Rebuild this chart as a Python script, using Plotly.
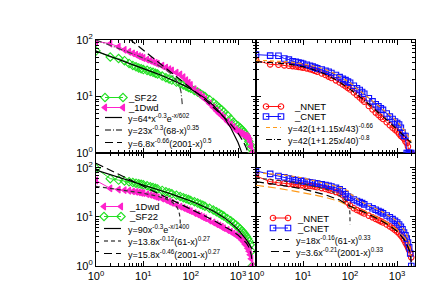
import plotly.graph_objects as go

# ---------------- data ----------------
rank = [1, 2, 3, 4, 5, 6, 7, 8, 9, 10, 12, 14, 16, 18, 20, 25, 30, 35, 40,
        50, 60, 70, 80, 90, 100, 120, 140, 160, 180, 200, 250, 300, 350, 400, 450, 500,
        600, 700, 800, 900, 1000, 1100, 1200, 1300, 1400, 1500, 1600, 1700, 1800, 1900, 2000]

# top-left: dimG, SF22 / 1Dwd
dimG_SF22 = [64, 50, 47, 43, 38.5, 35.5, 33.5, 32, 31, 30,
             29, 27.8, 26.8, 25.8, 25, 23, 21.5, 20.5, 19.5,
             18, 17, 16, 15.2, 14.5, 14, 12.8, 12, 11.2, 10.5, 10,
             8.8, 7.8, 7, 6.3, 5.8, 5.3, 4.6, 4.0, 3.5, 3.2, 3.0,
             2.8, 2.6, 2.4, 2.2, 2.0, 1.8, 1.6, 1.4, 1.2, 1.0]
dimG_1Dwd = [95, 86, 76, 67, 62, 58, 55, 52, 50, 48,
             45, 43, 41, 39.5, 38, 35, 32.5, 30.5, 29,
             26.5, 24.5, 22, 19.5, 17.5, 16, 13.5, 12, 10.8, 9.8, 9,
             7.5, 6.4, 5.6, 5, 4.6, 4.2, 3.6, 3.2, 2.9, 2.6, 2.4,
             2.3, 2.2, 2.1, 2.0, 2.0, 1.9, 1.8, 1.6, 1.3, 1.0]
# top-right: dimG, NNET / CNET
dimG_NNET = [44, 37, 36.5, 35.5, 35, 34.5, 34, 33.5, 33, 32.5,
             31.5, 30.5, 29.5, 28.5, 27.5, 25.5, 24, 22.5, 21.3,
             19.3, 17.7, 16.3, 15.2, 14.2, 13.3, 11.8, 10.6, 9.6, 8.8, 8.1,
             6.8, 5.9, 5.2, 4.7, 4.3, 4.0, 3.5, 3.1, 2.8, 2.6, 2.4,
             2.2, 2.0, 1.9, 1.8, 1.6, 1.5, 1.3, 1.0, 1.0, 1.0]
dimG_CNET = [55, 53, 52.5, 47, 45, 42, 41, 40, 39, 38,
             36.5, 35, 34, 32.5, 31.5, 30, 28.5, 27.5, 26,
             24, 22, 20.5, 19.5, 18.3, 17.5, 15.5, 14, 13, 12, 11.2,
             9.3, 8.2, 7.3, 6.7, 6.2, 5.8, 5, 4.4, 4, 3.6, 3.4,
             3.2, 2.8, 2.3, 2.0, 2.0, 1.0, 1.0, 1.0, 1.0, 1.0]
# bottom-left: degK, 1Dwd / SF22
degK_1Dwd = [55, 38, 36, 35, 34, 33, 32.3, 31.6, 31, 30.5,
             29, 28, 27, 26, 25, 23.5, 22, 20.5, 19.3,
             17.5, 16.2, 15.2, 14.4, 13.7, 13.1, 12, 11.2, 10.5, 9.9, 9.4,
             8.4, 7.7, 7.1, 6.7, 6.3, 5.9, 5.4, 5.0, 4.6, 4.3, 4.0,
             3.7, 3.4, 3.1, 2.8, 2.6, 2.3, 2.0, 1.7, 1.4, 1.0]
degK_SF22 = [97, 60, 56, 54, 52, 50, 48.5, 47, 46, 45,
             43, 41, 39.5, 38, 37, 34.5, 32.5, 31, 29.5,
             27.5, 26, 24.5, 23.5, 22.5, 21.6, 20.3, 19.1, 18.1, 17.3, 16.5,
             15, 13.8, 12.7, 11.8, 11, 10.4, 9.2, 8.3, 7.5, 6.8, 6.2,
             5.7, 5.2, 4.8, 4.4, 4.0, 3.6, 3.2, 2.7, 2.0, 1.0]
# bottom-right: degK, NNET / CNET
degK_NNET = [68, 52, 49.5, 48.5, 47, 46.5, 45.5, 45, 44, 43.5,
             43, 42.5, 42, 41, 40, 38.5, 37, 35.5, 34,
             32, 30, 27.5, 23, 19.5, 17, 15, 13.8, 13, 12.3, 11.7,
             10.6, 9.8, 9.1, 8.6, 8.1, 7.7, 7, 6.4, 5.9, 5.4, 5.0,
             4.6, 4.2, 3.8, 3.4, 3.0, 2.7, 2.4, 2.1, 1.8, 1.5]
degK_CNET = [86, 75, 68, 64, 60.5, 58, 56, 55, 54, 53.5,
             52, 50.5, 49.5, 48.5, 47.5, 46, 44.5, 43, 41.5,
             39, 36.5, 33, 29, 26, 24.5, 22.5, 21, 20, 19, 18,
             16.3, 15, 14, 13.2, 12.5, 11.8, 10.7, 9.8, 9, 8.3, 7.7,
             7, 6.3, 5.6, 4.8, 4.2, 3.6, 3.0, 2.4, 1.8, 1.0]

# fitted curves
fitTL_exp_x = [1, 2, 3, 5, 7, 10, 15, 20, 30, 50, 70, 100, 150, 200, 300, 500, 700, 1000, 1300]
fitTL_exp_y = [63.9, 51.8, 45.8, 39.2, 35.3, 31.5, 27.7, 25.2, 21.9, 18.2, 15.9, 13.6, 11.1,
               9.36, 7.0, 4.33, 2.8, 1.53, 0.85]
fitTL_68_x = [1, 2, 3, 5, 7, 10, 15, 20, 30, 40, 50, 55, 60, 63, 65, 66.5, 66.8]
fitTL_68_y = [100.2, 81.0, 71.3, 60.5, 54.1, 47.7, 41.0, 36.3, 29.6, 24.4, 19.6, 16.9, 13.96,
              11.6, 9.67, 7.5, 6.95]
fitTL_2001_x = [5, 5.5, 6, 7, 10, 15, 20, 30, 50, 70, 100, 150, 200, 300, 500, 700, 1000, 1300, 1500, 1700]
fitTL_2001_y = [105, 98.6, 93, 84.1, 66.3, 50.8, 41.9, 32.0, 22.7, 18.1, 14.2, 10.7, 8.75, 6.5,
                4.36, 3.25, 2.25, 1.58, 1.22, 0.87]

fitTR_x = [1, 2, 5, 10, 20, 30, 50, 100, 200, 300, 500, 700, 1000, 1500, 2000]
fitTR_orange_y = [44, 43, 41, 38, 33.5, 30, 25, 17.5, 11, 8.5, 6, 4.7, 3.6, 2.4, 1.6]
fitTR_black_y = [41, 40, 37.4, 33.8, 28.5, 24.7, 19.8, 13.5, 8.6, 6.46, 4.43, 3.43, 2.6, 1.9, 1.52]

fitBL_exp_x = [1, 2, 3, 5, 7, 10, 15, 20, 30, 50, 70, 100, 150, 200, 300, 500, 700, 1000, 1500, 2000]
fitBL_exp_y = [89.9, 73.1, 64.7, 55.5, 50.0, 44.8, 39.5, 36.1, 31.7, 26.8, 24.0, 21.0, 17.9, 15.9,
               13.15, 9.76, 7.65, 5.56, 3.43, 2.21]
fitBL_61_x = [1, 2, 3, 5, 10, 20, 30, 40, 50, 55, 58, 60, 60.7]
fitBL_61_y = [41.7, 38.2, 36.2, 33.7, 30.3, 26.3, 23.2, 20.2, 16.5, 13.8, 11.4, 8.45, 6.1]
fitBL_2001_x = [1, 2, 3, 5, 7, 10, 15, 20, 30, 50, 70, 100, 150, 200, 300, 500, 700, 1000,
                1300, 1500, 1700, 1800, 1900, 1950]
fitBL_2001_y = [123, 89.4, 74.2, 58.7, 50.3, 42.6, 35.3, 30.9, 25.6, 20.3, 17.3, 14.6, 12.0, 10.4,
                8.53, 6.51, 5.38, 4.26, 3.43, 2.94, 2.41, 2.11, 1.71, 1.40]

fitBR_up_x = [1, 2, 3, 5, 10, 20, 35, 50, 70, 90, 100, 150, 200, 300, 500, 700, 1000, 1500, 1800, 2000]
fitBR_up_y = [80, 76, 73, 69, 62, 53, 46, 42, 38, 34, 30, 22, 19, 16, 12.5, 10.3, 8.2, 5, 3.2, 1.2]
fitBR_61_x = [1, 2, 3, 5, 10, 20, 30, 40, 50, 60, 70, 80, 90, 95, 99, 99.8]
fitBR_61_y = [62, 58, 56, 52, 47, 41, 37, 33, 30, 27, 24.5, 22, 19.5, 17.5, 12, 7]
fitBR_2001_x = [1, 3, 10, 30, 60, 100, 200, 400, 700, 1000, 1500, 1900, 2000]
fitBR_2001_y = [52, 45, 37, 28, 22, 16.5, 12.5, 9, 6.6, 5.1, 3.2, 1.9, 1.2]
fitBR_or_x = [1, 3, 10, 30, 60, 100, 200, 400, 700, 1000, 1500, 1900]
fitBR_or_y = [44, 38, 31, 25, 20.5, 16, 13, 9.5, 7, 5.5, 3.6, 2.2]

x_tickvals = [1, 10, 100, 1000]
x_ticktext = ["10<sup>0</sup>", "10<sup>1</sup>", "10<sup>2</sup>", "10<sup>3</sup>"]
y_tickvals = [1, 10, 100]
y_ticktext = ["10<sup>0</sup>", "10<sup>1</sup>", "10<sup>2</sup>"]
minor_vals = [m * 10 ** e for e in range(4) for m in range(2, 10)]

legend_TL = ["_SF22", "_1Dwd", "y=64*x<sup>-0.3</sup>e<sup>-x/602</sup>",
             "y=23x<sup>-0.3</sup>(68-x)<sup>0.35</sup>", "y=6.8x<sup>-0.66</sup>(2001-x)<sup>0.5</sup>"]
legend_TR = ["_NNET", "_CNET", "y=42(1+1.15x/43)<sup>-0.66</sup>", "y=42(1+1.25x/40)<sup>-0.8</sup>"]
legend_BL = ["_1Dwd", "_SF22", "y=90x<sup>-0.3</sup>e<sup>-x/1400</sup>",
             "y=13.8x<sup>-0.12</sup>(61-x)<sup>0.27</sup>", "y=15.8x<sup>-0.46</sup>(2001-x)<sup>0.27</sup>"]
legend_BR = ["_NNET", "_CNET", "y=18x<sup>-0.16</sup>(61-x)<sup>0.33</sup>",
             "y=3.6x<sup>-0.21</sup>(2001-x)<sup>0.33</sup>"]

# ---------------- styles ----------------
GREEN = "#22e022"
PINK = "#ff22cc"
RED = "#ff1010"
BLUE = "#1010ff"
ORANGE = "#ff9a1a"
FONT = "Liberation Sans, Arial, sans-serif"
SHORT = "4px,3px"
LONG = "8px,4px"
DASHDOT = "6px,2px,1px,2px"

STY = {
    "SF22": dict(color=GREEN, symbol="diamond-open", size=6.5),
    "1Dwd": dict(color=PINK, symbol="triangle-left", size=6),
    "NNET": dict(color=RED, symbol="circle-open", size=5.5),
    "CNET": dict(color=BLUE, symbol="square-open", size=5.5),
}

fig = go.Figure()


def add_data(x, y, key, xa, ya):
    s = STY[key]
    fig.add_trace(go.Scatter(
        x=x, y=y, mode="lines+markers", xaxis=xa, yaxis=ya,
        line=dict(color=s["color"], width=1),
        marker=dict(symbol=s["symbol"], size=s["size"], color=s["color"],
                    line=dict(color=s["color"], width=1.1)),
        showlegend=False, hoverinfo="skip"))


def add_fit(x, y, color, dash, xa, ya, width=1.2):
    fig.add_trace(go.Scatter(
        x=x, y=y, mode="lines", xaxis=xa, yaxis=ya,
        line=dict(color=color, width=width, dash=dash),
        showlegend=False, hoverinfo="skip"))


# top-left (x3, y3)
add_data(rank, dimG_SF22, "SF22", "x3", "y3")
add_data(rank, dimG_1Dwd, "1Dwd", "x3", "y3")
add_fit(fitTL_exp_x, fitTL_exp_y, "black", "solid", "x3", "y3")
add_fit(fitTL_68_x, fitTL_68_y, "#444444", DASHDOT, "x3", "y3")
add_fit(fitTL_2001_x, fitTL_2001_y, "black", LONG, "x3", "y3")
# top-right (x4, y4)
add_data(rank, dimG_NNET, "NNET", "x4", "y4")
add_data(rank, dimG_CNET, "CNET", "x4", "y4")
add_fit(fitTR_x, fitTR_orange_y, ORANGE, SHORT, "x4", "y4")
add_fit(fitTR_x, fitTR_black_y, "black", DASHDOT, "x4", "y4")
# bottom-left (x, y)
add_data(rank, degK_SF22, "SF22", "x", "y")
add_data(rank, degK_1Dwd, "1Dwd", "x", "y")
add_fit(fitBL_exp_x, fitBL_exp_y, "black", "solid", "x", "y")
add_fit(fitBL_61_x, fitBL_61_y, "#333333", SHORT, "x", "y")
add_fit(fitBL_2001_x, fitBL_2001_y, "black", LONG, "x", "y")
# bottom-right (x2, y2)
add_data(rank, degK_NNET, "NNET", "x2", "y2")
add_data(rank, degK_CNET, "CNET", "x2", "y2")
add_fit(fitBR_up_x, fitBR_up_y, ORANGE, SHORT, "x2", "y2")
add_fit(fitBR_or_x, fitBR_or_y, ORANGE, LONG, "x2", "y2")
add_fit(fitBR_61_x, fitBR_61_y, "#333333", SHORT, "x2", "y2")
add_fit(fitBR_2001_x, fitBR_2001_y, "black", LONG, "x2", "y2")

# ---------------- hand-made legends (pixel overlay axis x5/y5) ----------------
ann = []


def leg_data(key, x0, x1, yy, text, tx):
    s = STY[key]
    fig.add_trace(go.Scatter(
        x=[x0, x1], y=[yy, yy], mode="lines+markers", xaxis="x5", yaxis="y5",
        line=dict(color=s["color"], width=1),
        marker=dict(symbol=s["symbol"], size=s["size"], color=s["color"],
                    line=dict(color=s["color"], width=1.1)),
        showlegend=False, hoverinfo="skip", cliponaxis=False))
    ann.append(dict(x=tx, y=yy, text=text, size=9.5))


def leg_line(color, dash, x0, x1, yy, text, tx):
    fig.add_trace(go.Scatter(
        x=[x0, x1], y=[yy, yy], mode="lines", xaxis="x5", yaxis="y5",
        line=dict(color=color, width=1.2, dash=dash),
        showlegend=False, hoverinfo="skip", cliponaxis=False))
    ann.append(dict(x=tx, y=yy, text=text, size=9))


# top-left legend
leg_data("SF22", 97, 115, 89.5, legend_TL[0], 118)
leg_data("1Dwd", 97, 115, 99.5, legend_TL[1], 118)
leg_line("black", "solid", 97, 114, 109.5, legend_TL[2], 118)
leg_line("black", DASHDOT, 97, 114, 122, legend_TL[3], 118)
leg_line("black", LONG, 97, 114, 134.5, legend_TL[4], 118)
# top-right legend
leg_data("NNET", 258, 273, 98.5, legend_TR[0], 284)
leg_data("CNET", 258, 273, 108.5, legend_TR[1], 284)
leg_line(ORANGE, SHORT, 258, 273, 119.5, legend_TR[2], 278)
leg_line("black", DASHDOT, 258, 273, 131.5, legend_TR[3], 278)
# bottom-left legend
leg_data("1Dwd", 96, 113, 198.5, legend_BL[0], 119)
leg_data("SF22", 96, 113, 208.5, legend_BL[1], 119)
leg_line("black", "solid", 96, 113, 220.5, legend_BL[2], 118)
leg_line("black", SHORT, 96, 113, 233, legend_BL[3], 118)
leg_line("black", LONG, 96, 113, 245.5, legend_BL[4], 118)
# bottom-right legend
leg_data("NNET", 265, 280, 210, legend_BR[0], 287)
leg_data("CNET", 265, 280, 220, legend_BR[1], 287)
leg_line("black", SHORT, 263, 282, 231.5, legend_BR[2], 286)
leg_line("black", LONG, 263, 282, 243.5, legend_BR[3], 286)

annotations = []
for a in ann:
    annotations.append(dict(x=a["x"], y=a["y"], xref="x5", yref="y5", text=a["text"],
                            showarrow=False, xanchor="left", yanchor="middle",
                            font=dict(family=FONT, size=a["size"], color="black")))
# axis titles
annotations += [
    dict(x=50, y=88, xref="x5", yref="y5", text="dimG<sup>i</sup>", textangle=-90,
         showarrow=False, font=dict(family=FONT, size=14, color="black")),
    dict(x=50, y=202, xref="x5", yref="y5", text="degK<sup>i</sup>", textangle=-90,
         showarrow=False, font=dict(family=FONT, size=14, color="black")),
    dict(x=166, y=282, xref="x5", yref="y5", text="rank i",
         showarrow=False, font=dict(family=FONT, size=14, color="black")),
    dict(x=326, y=282, xref="x5", yref="y5", text="rank i",
         showarrow=False, font=dict(family=FONT, size=14, color="black")),
]

XR = [0, 3.38]
XSPLIT = 0.5016


def xax(domain, anchor, labels):
    return dict(type="log", range=XR, domain=domain, anchor=anchor,
                showline=True, linecolor="black", linewidth=1.2, mirror="allticks",
                ticks="inside", ticklen=5, tickwidth=1, tickcolor="black",
                tickmode="array", tickvals=x_tickvals, ticktext=x_ticktext,
                showticklabels=labels, showgrid=False, zeroline=False,
                tickfont=dict(family=FONT, size=11, color="black"),
                minor=dict(tickmode="array", tickvals=minor_vals, ticks="inside",
                           ticklen=2.5, tickwidth=0.8, tickcolor="black", showgrid=False))


def yax(domain, anchor, rng, labels):
    return dict(type="log", range=rng, domain=domain, anchor=anchor,
                showline=True, linecolor="black", linewidth=1.2, mirror="allticks",
                ticks="inside", ticklen=5, tickwidth=1, tickcolor="black",
                tickmode="array", tickvals=y_tickvals, ticktext=y_ticktext,
                showticklabels=labels, showgrid=False, zeroline=False,
                tickfont=dict(family=FONT, size=11, color="black"),
                minor=dict(tickmode="array", tickvals=minor_vals, ticks="inside",
                           ticklen=2.5, tickwidth=0.8, tickcolor="black", showgrid=False))


fig.update_layout(
    width=437, height=300,
    margin=dict(l=88, r=30, t=32, b=42, pad=0),
    paper_bgcolor="white", plot_bgcolor="rgba(0,0,0,0)",
    showlegend=False,
    font=dict(family=FONT, size=11, color="black"),
    xaxis=xax([0, XSPLIT], "y", True),
    xaxis2=xax([XSPLIT, 1], "y2", True),
    xaxis3=xax([0, XSPLIT], "y3", False),
    xaxis4=xax([XSPLIT, 1], "y4", False),
    yaxis=yax([0, 0.5], "x", [0, 2.3], True),
    yaxis2=yax([0, 0.5], "x2", [0, 2.3], False),
    yaxis3=yax([0.5, 1], "x3", [0, 2], True),
    yaxis4=yax([0.5, 1], "x4", [0, 2], False),
    xaxis5=dict(domain=[0, 1], range=[88, 407], anchor="y5", visible=False, fixedrange=True),
    yaxis5=dict(domain=[0, 1], range=[258, 32], anchor="x5", visible=False, fixedrange=True),
    annotations=annotations,
)

fig.write_html("out.html")
